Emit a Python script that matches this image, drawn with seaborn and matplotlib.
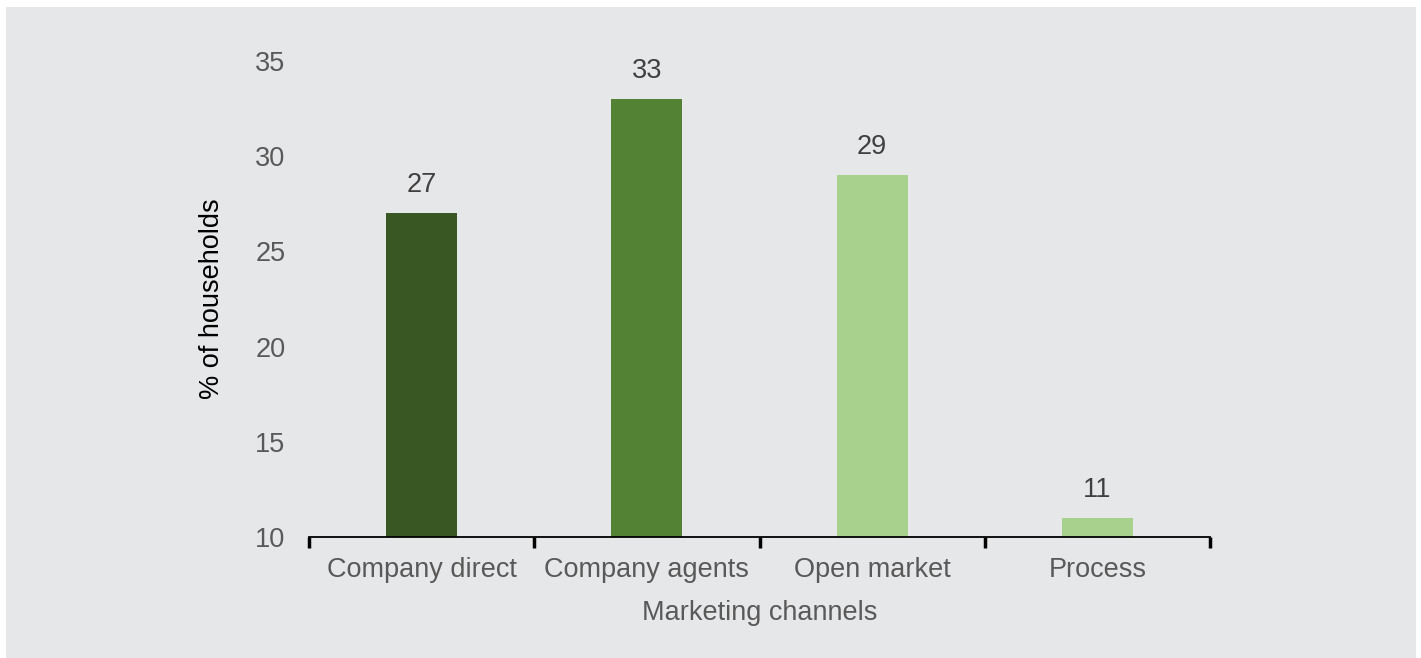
import matplotlib
matplotlib.use("Agg")
import matplotlib.pyplot as plt
import seaborn as sns
import pandas as pd
from matplotlib.patches import Rectangle

categories = ["Company direct", "Company agents", "Open market", "Process"]
values = [27, 33, 29, 11]
colors = ["#385723", "#548235", "#a9d18e", "#a9d18e"]
yticks = [10, 15, 20, 25, 30, 35]

sns.set_theme(style="white")
plt.rcParams['font.family'] = ['Liberation Sans', 'DejaVu Sans']

fs = 19.5
bg = "#e6e7e9"
fig = plt.figure(figsize=(14.21, 6.58), dpi=100, facecolor="white")
fig.patches.append(Rectangle((6/1421, 0), (1416-6)/1421, (658-7)/658,
                             transform=fig.transFigure, facecolor=bg,
                             edgecolor="none", zorder=-10))
ax = fig.add_axes([309/1421, 121/658, (1210-309)/1421, (537-61)/658])
ax.set_facecolor(bg)
ax.set_zorder(1)

df = pd.DataFrame({"channel": categories, "pct": values})
sns.barplot(data=df, x="channel", y="pct", hue="channel", palette=colors,
            width=0.315, legend=False, ax=ax, saturation=1, linewidth=0)

ax.set_ylim(10, 35)
ax.set_xlim(-0.5, len(categories) - 0.5)
ax.set_yticks(yticks)
ax.set_yticklabels([str(t) for t in yticks], fontsize=fs, color="#595959")
ax.tick_params(axis="y", length=0, pad=17, left=False)
ax.set_xticks([i - 0.5 for i in range(len(categories) + 1)], minor=True)
ax.tick_params(axis="x", which="major", length=0, pad=14.5, labelsize=fs,
               labelcolor="#595959", bottom=False)
ax.tick_params(axis="x", which="minor", length=8, width=2.5, color="black",
               direction="out", bottom=True)

for s in ["top", "right", "left"]:
    ax.spines[s].set_visible(False)
ax.spines["bottom"].set_color("black")
ax.spines["bottom"].set_linewidth(1.3)

for c in ax.containers:
    ax.bar_label(c, labels=[str(int(v)) for v in c.datavalues], padding=11,
                 fontsize=fs, color="#404040")

ax.set_ylabel("% of households", fontsize=fs, color="black", labelpad=22)
ax.set_xlabel("Marketing channels", fontsize=fs, color="#595959", labelpad=12)

fig.savefig("out.png", dpi=100, facecolor="white")
